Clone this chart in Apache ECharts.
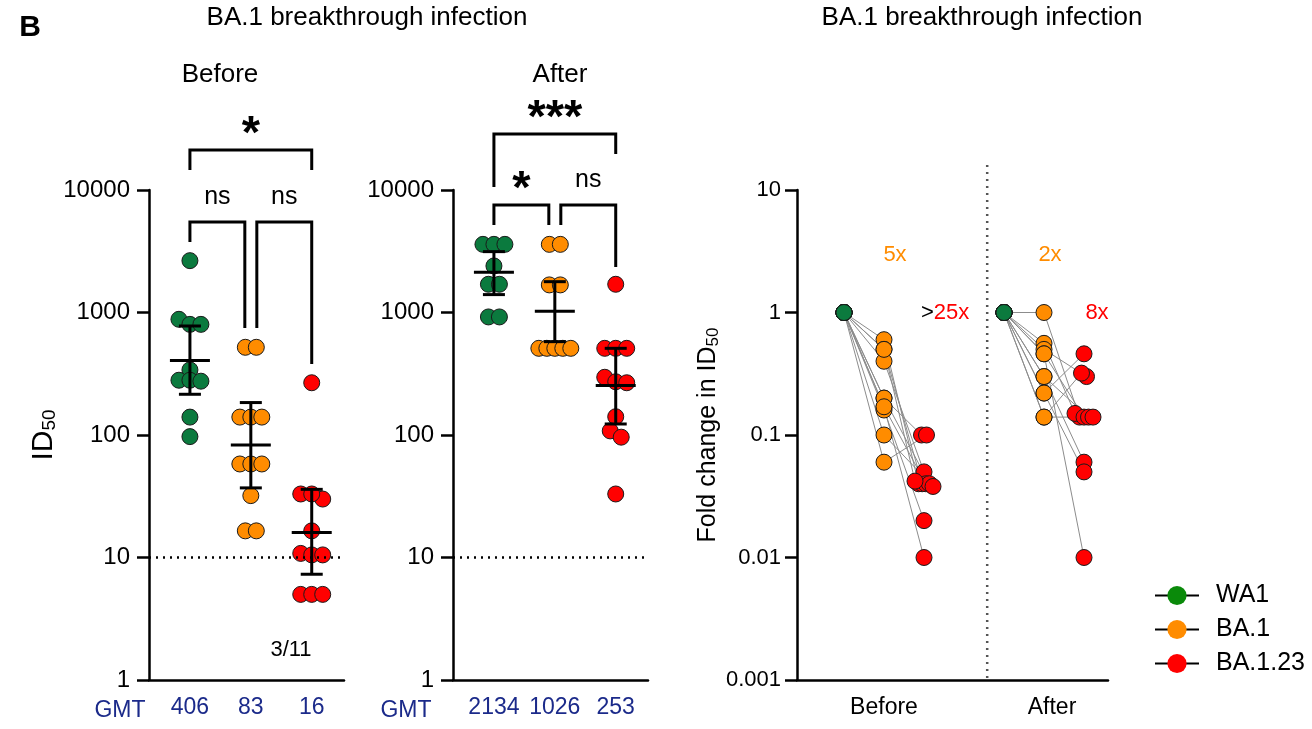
<!DOCTYPE html>
<html>
<head>
<meta charset="utf-8">
<script src="https://cdn.jsdelivr.net/npm/echarts@6/dist/echarts.min.js"></script>
<style>
  html, body { margin: 0; padding: 0; background: #fff; }
  #main { width: 1312px; height: 729px; }
</style>
</head>
<body>
<div id="main"></div>
<script>
// 数据
var variants = ['WA1', 'BA.1', 'BA.1.23'];
var colors = ['#0b7a3e', '#ff8c00', '#ff0000'];
var legendColors = ['#0a8a0a', '#ff8c00', '#ff0000'];

// ID50 before / after BA.1 breakthrough
var beforeWA1 = [2650, 880, 800, 800, 340, 280, 280, 275, 140, 97];
var beforeBA1 = [520, 520, 140, 140, 140, 58, 58, 58, 32, 16.5, 16.5];
var beforeBA123 = [267, 33, 30, 33, 16.5, 10.8, 10.5, 10.5, 5, 5, 5];
var afterWA1 = [3600, 3600, 3600, 2400, 1700, 1700, 920, 920];
var afterBA1 = [3600, 3600, 1680, 1680, 510, 510, 510, 510, 510];
var afterBA123 = [1700, 510, 510, 510, 296, 272, 267, 141, 108, 96, 33];

var gmtBefore = [406, 83, 16];
var gmtAfter = [2134, 1026, 253];
var ciBeforeLow = [215, 37, 7.3];
var ciBeforeHigh = [776, 184, 36];
var ciAfterLow = [1400, 578, 123];
var ciAfterHigh = [3140, 1785, 510];
var detectionLimit = 10;

// fold change vs WA1, one entry per subject
var foldBeforeBA1 = [0.6, 0.5, 0.4, 0.2, 0.17, 0.16, 0.2, 0.1, 0.06, 0.17, 0.5];
var foldBeforeBA123 = [0.04, 0.04, 0.05, 0.1, 0.04, 0.02, 0.04, 0.038, 0.1, 0.01, 0.042];
var foldAfterBA1 = [1, 0.56, 0.5, 0.46, 0.3, 0.3, 0.22, 0.22, 0.14, 0.14, 0.46];
var foldAfterBA123 = [0.14, 0.15, 0.3, 0.14, 0.14, 0.06, 0.46, 0.05, 0.32, 0.14, 0.01];
var foldLabels = ['5x', '>25x', '2x', '8x'];
var groupLabels = ['Before', 'After'];

var FONT = 'Liberation Sans, Arial, Helvetica, sans-serif';
var PX_DECADE = 122.5;

// 简单的蜂群散点布局：值接近的点左右排开
function swarm(values, cat, pxPerUnit, gap, thresh, maxSpread) {
    var idx = values.map(function (v, i) { return i; });
    idx.sort(function (a, b) { return values[b] - values[a]; });
    var groups = [], cur = [];
    idx.forEach(function (i) {
        if (cur.length && (Math.log10(values[cur[0]]) - Math.log10(values[i])) * PX_DECADE > thresh) {
            groups.push(cur); cur = [];
        }
        cur.push(i);
    });
    if (cur.length) groups.push(cur);
    var out = [];
    groups.forEach(function (g) {
        var step = g.length > 1 ? Math.min(gap, maxSpread / (g.length - 1)) : 0;
        g.forEach(function (i, k) {
            var off = (k - (g.length - 1) / 2) * step;
            out[i] = [cat + off / pxPerUnit, values[i]];
        });
    });
    return out;
}

function errorBar(params, api) {
    var x = api.value(0);
    var mid = api.coord([x, api.value(1)]);
    var lo = api.coord([x, api.value(2)]);
    var hi = api.coord([x, api.value(3)]);
    var st = { stroke: '#000', lineWidth: 3 };
    return {
        type: 'group',
        children: [
            { type: 'line', shape: { x1: mid[0], y1: lo[1], x2: mid[0], y2: hi[1] }, style: st },
            { type: 'line', shape: { x1: mid[0] - 11, y1: lo[1], x2: mid[0] + 11, y2: lo[1] }, style: st },
            { type: 'line', shape: { x1: mid[0] - 11, y1: hi[1], x2: mid[0] + 11, y2: hi[1] }, style: st },
            { type: 'line', shape: { x1: mid[0] - 20, y1: mid[1], x2: mid[0] + 20, y2: mid[1] }, style: st }
        ]
    };
}

var chart = echarts.init(document.getElementById('main'));

function logLabel(v) { return String(+(+v).toPrecision(3)); }

function idAxis(grid) {
    return {
        type: 'log', logBase: 10, min: 1, max: 10000, gridIndex: grid,
        axisLine: { show: true, onZero: false, lineStyle: { color: '#000', width: 2.5 } },
        axisTick: { show: true, length: 12, lineStyle: { color: '#000', width: 2.5 } },
        axisLabel: { color: '#000', fontSize: 24, fontFamily: FONT, margin: 19, formatter: logLabel },
        splitLine: { show: false }
    };
}
function gmtAxis(grid, gmt) {
    return {
        type: 'value', gridIndex: grid, min: -0.672, max: 2.53,
        axisLine: { show: true, onZero: false, lineStyle: { color: '#000', width: 2.5 } },
        axisTick: { show: false },
        splitLine: { show: false },
        axisLabel: {
            customValues: [0, 1, 2], color: '#1b2a8a', fontSize: 23, fontFamily: FONT, margin: 16,
            formatter: function (v) { return String(gmt[Math.round(v)]); }
        }
    };
}

var beforeSets = [beforeWA1, beforeBA1, beforeBA123];
var afterSets = [afterWA1, afterBA1, afterBA123];
var series = [];

[beforeSets, afterSets].forEach(function (sets, g) {
    sets.forEach(function (vals, c) {
        var s = {
            type: 'scatter', xAxisIndex: g, yAxisIndex: g, z: 2,
            symbol: 'circle', symbolSize: 16,
            itemStyle: { color: colors[c], borderColor: '#1a1a1a', borderWidth: 1, opacity: 1 },
            data: swarm(vals, c, 61, 11, 9, 32)
        };
        if (c === 0) {
            s.markLine = {
                silent: true, symbol: 'none', label: { show: false },
                lineStyle: { color: '#000', type: [2, 5], width: 2.5 },
                data: [{ yAxis: detectionLimit }]
            };
        }
        series.push(s);
    });
});

var gm = [gmtBefore, gmtAfter], lo = [ciBeforeLow, ciAfterLow], hi = [ciBeforeHigh, ciAfterHigh];
[0, 1].forEach(function (g) {
    series.push({
        type: 'custom', xAxisIndex: g, yAxisIndex: g, z: 3, silent: true,
        renderItem: errorBar,
        encode: { x: 0, y: 1 },
        data: gm[g].map(function (v, c) { return [c, v, lo[g][c], hi[g][c]]; })
    });
});

// 右侧：倍数变化连线图
var pairs = [
    { base: 0, ba1: foldBeforeBA1, ba123: foldBeforeBA123 },
    { base: 4, ba1: foldAfterBA1, ba123: foldAfterBA123 }
];
pairs.forEach(function (p) {
    var redPts = swarm(p.ba123, p.base + 2, 40, 5, 6, 18);
    var greenPts = p.ba1.map(function () { return [p.base, 1]; });
    var orangePts = p.ba1.map(function (v) { return [p.base + 1, v]; });
    p.ba1.forEach(function (v, i) {
        series.push({
            type: 'line', xAxisIndex: 2, yAxisIndex: 2, silent: true, z: 1,
            symbol: 'none', lineStyle: { color: '#8c8c8c', width: 1 },
            data: [greenPts[i], orangePts[i], redPts[i]]
        });
    });
    [greenPts, orangePts, redPts].forEach(function (pts, c) {
        series.push({
            type: 'scatter', xAxisIndex: 2, yAxisIndex: 2, z: 2,
            symbol: 'circle', symbolSize: 16,
            itemStyle: { color: colors[c], borderColor: '#1a1a1a', borderWidth: 1, opacity: 1 },
            data: pts
        });
    });
});

// 图例用的空系列
variants.forEach(function (name, c) {
    series.push({
        name: name, type: 'line', xAxisIndex: 2, yAxisIndex: 2, data: [],
        symbol: 'circle', symbolSize: 20,
        lineStyle: { color: '#000', width: 2 },
        itemStyle: { color: legendColors[c] }
    });
});

var option = {
    animation: false,
    backgroundColor: '#fff',
    textStyle: { fontFamily: FONT },
    grid: [
        { left: 149, top: 190, width: 195, height: 490 },
        { left: 453, top: 190, width: 195, height: 490 },
        { left: 797, top: 190, width: 311, height: 490 }
    ],
    xAxis: [
        gmtAxis(0, gmtBefore),
        gmtAxis(1, gmtAfter),
        {
            type: 'value', gridIndex: 2, min: -1.175, max: 6.6,
            axisLine: { show: true, onZero: false, lineStyle: { color: '#000', width: 2.5 } },
            axisTick: { show: false },
            splitLine: { show: false },
            axisLabel: {
                customValues: [1, 5.2], color: '#000', fontSize: 23, fontFamily: FONT, margin: 16,
                formatter: function (v) { return v < 3 ? groupLabels[0] : groupLabels[1]; }
            }
        }
    ],
    yAxis: [
        Object.assign(idAxis(0), {
            name: '{a|ID}{b|50}', nameLocation: 'middle', nameGap: 86,
            nameTextStyle: {
                rich: {
                    a: { fontSize: 30, fontFamily: FONT, color: '#000' },
                    b: { fontSize: 19, fontFamily: FONT, color: '#000', padding: [12, 0, 0, 0] }
                }
            }
        }),
        idAxis(1),
        {
            type: 'log', logBase: 10, min: 0.001, max: 10, gridIndex: 2,
            axisLine: { show: true, onZero: false, lineStyle: { color: '#000', width: 2.5 } },
            axisTick: { show: true, length: 12, lineStyle: { color: '#000', width: 2.5 } },
            axisLabel: { color: '#000', fontSize: 22, fontFamily: FONT, margin: 16, formatter: logLabel },
            splitLine: { show: false },
            name: '{a|Fold change in ID}{b|50}', nameLocation: 'middle', nameGap: 62,
            nameTextStyle: {
                rich: {
                    a: { fontSize: 25, fontFamily: FONT, color: '#000' },
                    b: { fontSize: 17, fontFamily: FONT, color: '#000', padding: [10, 0, 0, 0] }
                }
            }
        }
    ],
    legend: {
        data: variants, orient: 'vertical', left: 1149, top: 578,
        itemWidth: 44, itemHeight: 24, itemGap: 9,
        textStyle: { fontSize: 25, fontFamily: FONT, color: '#000', padding: [0, 0, 0, 12] },
        selectedMode: false
    },
    series: series
};

chart.setOption(option);

// 显著性标注括号
var brackets = [
    { g: 0, a: 0, b: 2, dxa: 0, dxb: 0, y: 150, ya: 170, yb: 170, text: '*' },
    { g: 0, a: 0, b: 1, dxa: 0, dxb: -6, y: 222, ya: 242, yb: 328, text: 'ns' },
    { g: 0, a: 1, b: 2, dxa: 6, dxb: 0, y: 222, ya: 328, yb: 364, text: 'ns' },
    { g: 1, a: 0, b: 2, dxa: 0, dxb: 0, y: 134, ya: 187, yb: 154, text: '***' },
    { g: 1, a: 0, b: 1, dxa: 0, dxb: -6, y: 205, ya: 225, yb: 225, text: '*' },
    { g: 1, a: 1, b: 2, dxa: 6, dxb: 0, y: 205, ya: 225, yb: 267, text: 'ns' }
];
var gfx = [];
brackets.forEach(function (br) {
    var xa = chart.convertToPixel({ xAxisIndex: br.g }, br.a) + br.dxa;
    var xb = chart.convertToPixel({ xAxisIndex: br.g }, br.b) + br.dxb;
    gfx.push({
        type: 'polyline', silent: true,
        shape: { points: [[xa, br.ya], [xa, br.y], [xb, br.y], [xb, br.yb]] },
        style: { stroke: '#000', lineWidth: 3, fill: null }
    });
    var star = br.text.charAt(0) === '*';
    gfx.push({
        type: 'text', silent: true,
        style: {
            x: (xa + xb) / 2, y: star ? br.y + 9 : br.y - 25, text: br.text,
            fill: '#000', align: 'center', verticalAlign: star ? 'bottom' : 'middle',
            font: star ? 'bold 47px ' + FONT : '25px ' + FONT
        }
    });
});

// 右侧分隔虚线
var divX = chart.convertToPixel({ xAxisIndex: 2 }, 3.58);
gfx.push({
    type: 'line', silent: true,
    shape: { x1: divX, y1: 165, x2: divX, y2: 680 },
    style: { stroke: '#555', lineWidth: 2.5, lineDash: [2, 5] }
});

function label(x, y, text, size, opts) {
    opts = opts || {};
    gfx.push({
        type: 'text', silent: true,
        style: {
            x: x, y: y, text: text, fill: opts.color || '#000',
            align: opts.align || 'center', verticalAlign: 'middle',
            font: (opts.bold ? 'bold ' : '') + size + 'px ' + FONT,
            rich: opts.rich
        }
    });
}
label(30, 28, 'B', 30, { bold: true });
label(367, 18, 'BA.1 breakthrough infection', 26);
label(982, 18, 'BA.1 breakthrough infection', 26);
label(220, 75, groupLabels[0], 26);
label(560, 75, groupLabels[1], 26);
label(120, 711, 'GMT', 23, { color: '#1b2a8a' });
label(406, 711, 'GMT', 23, { color: '#1b2a8a' });
label(291, 650, '3/11', 22);
label(895, 255, foldLabels[0], 22, { color: '#ff8c00' });
label(921, 313, '{k|>}{r|' + foldLabels[1].slice(1) + '}', 22, {
    align: 'left',
    rich: { k: { fill: '#000', fontSize: 22, fontFamily: FONT }, r: { fill: '#ff0000', fontSize: 22, fontFamily: FONT } }
});
label(1050, 255, foldLabels[2], 22, { color: '#ff8c00' });
label(1097, 313, foldLabels[3], 22, { color: '#ff0000' });

chart.setOption({ graphic: gfx });
</script>
</body>
</html>
